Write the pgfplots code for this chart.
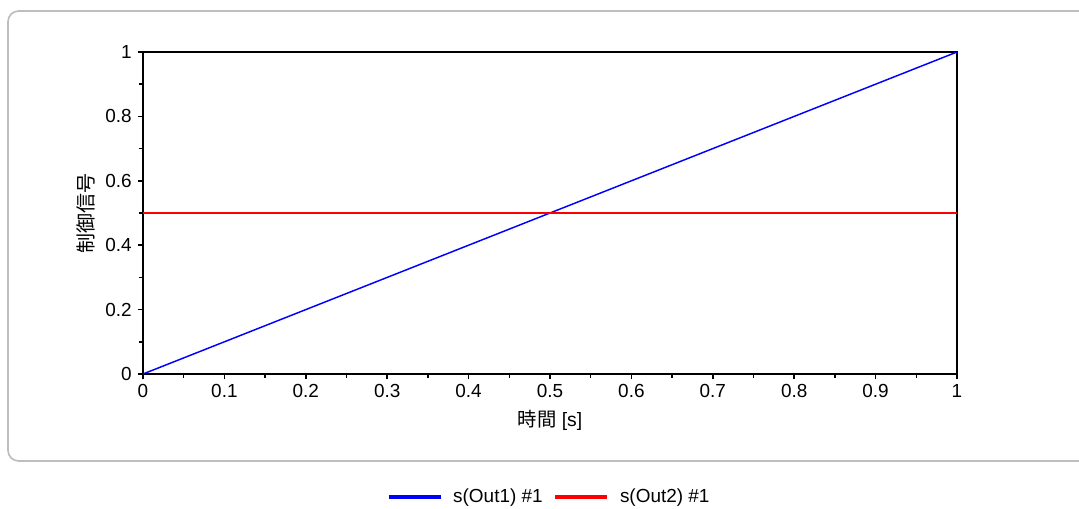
\documentclass[border=0pt]{standalone}
\usepackage{pgfplots}
\pgfplotsset{compat=1.18}
\usepackage{fontspec}
\setmainfont{Liberation Sans}
\newfontfamily\cjk{Noto Sans CJK JP}
\begin{document}
\begin{tikzpicture}
\clip (0pt,0pt) rectangle (809.25pt,381pt);
\draw[color={rgb,255:red,190;green,190;blue,190}, line width=1.3pt, rounded corners=8pt]
  (6pt,35.25pt) rectangle (821pt,372.75pt);
\begin{axis}[
  at={(107.25pt,100.5pt)}, anchor=south west,
  scale only axis, width=610.5pt, height=241.5pt,
  xmin=0, xmax=1, ymin=0, ymax=1,
  xtick={0,0.1,...,1.01}, ytick={0,0.2,...,1.01},
  minor xtick={0.05,0.15,...,1}, minor ytick={0.1,0.3,...,1},
  xticklabels={0,0.1,0.2,0.3,0.4,0.5,0.6,0.7,0.8,0.9,1},
  yticklabels={0,0.2,0.4,0.6,0.8,1},
  tick align=outside, tick pos=left,
  major tick length=4pt, minor tick length=3pt,
  every tick/.style={black, line width=1.1pt},
  axis line style={black, line width=1.3pt},
  tick label style={font=\fontsize{14.2}{16}\selectfont},
  xticklabel style={yshift=0pt},
  yticklabel style={xshift=-1pt},
  /pgf/number format/assume math mode=true,
  xlabel={{\cjk 時間} [s]},
  ylabel={{\cjk 制御信号}},
  xlabel style={at={(axis description cs:0.5,-0.143)}, anchor=center, font=\fontsize{14.5}{16}\selectfont},
  ylabel style={at={(axis description cs:-0.0703,0.5)}, anchor=center, font=\fontsize{15}{17}\selectfont},
  legend columns=2,
  legend style={at={(axis description cs:0.5,-0.382)}, anchor=center, draw=none, fill=none,
    font=\fontsize{14.2}{16}\selectfont, column sep=5pt,
    nodes={inner xsep=3pt}},
  legend image code/.code={\draw[#1, line width=3pt] (0pt,0pt) -- (39pt,0pt);},
]
\addplot[color={rgb,255:red,0;green,0;blue,255}, line width=1.1pt] coordinates {(0,0) (1,1)};
\addlegendentry{s(Out1) \#1}
\addplot[color={rgb,255:red,255;green,0;blue,0}, line width=1.1pt] coordinates {(0,0.5) (1,0.5)};
\addlegendentry{s(Out2) \#1}
\end{axis}
\end{tikzpicture}
\end{document}
